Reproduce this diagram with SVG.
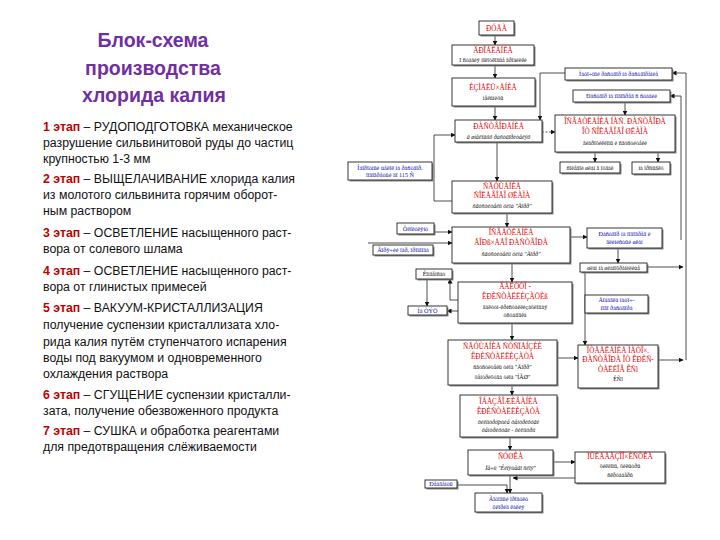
<svg xmlns="http://www.w3.org/2000/svg" width="720" height="540" viewBox="0 0 720 540">
<style>
.t{font-family:"Liberation Sans",Arial,sans-serif;font-size:12.3px;fill:#111}
.s{fill:#C00000;font-weight:bold}
.ttl{font-family:"Liberation Sans",Arial,sans-serif;font-size:19.5px;font-weight:bold;fill:#7030A0;text-anchor:middle}
.b{fill:#fff;stroke:#222;stroke-width:0.9}
.sh{fill:#888}
.r{font-family:"Liberation Serif","Times New Roman",serif;font-size:7.2px;fill:#E00000;text-anchor:middle}
.k{font-family:"Liberation Serif","Times New Roman",serif;font-size:6px;fill:#111;text-anchor:middle}
.i{font-style:italic}
.u{font-family:"Liberation Serif","Times New Roman",serif;font-size:6.2px;fill:#1010B0;text-anchor:middle}
.c{fill:none;stroke:#222;stroke-width:0.8}
</style>
<defs>
<marker id="a" markerWidth="5" markerHeight="5" refX="4.5" refY="2.5" orient="auto" markerUnits="userSpaceOnUse"><path d="M0,0 L5,2.5 L0,5 Z" fill="#111"/></marker>
</defs>
<rect width="720" height="540" fill="#fff"/>
<g id="text-panel">
<text class="ttl" x="153" y="47">Блок-схема</text>
<text class="ttl" x="153" y="75">производства</text>
<text class="ttl" x="154" y="102">хлорида калия</text>
<text class="t" x="43" y="131"><tspan class="s">1 этап</tspan> – РУДОПОДГОТОВКА механическое</text>
<text class="t" x="43" y="147">разрушение сильвинитовой руды до частиц</text>
<text class="t" x="43" y="163">крупностью 1-3 мм</text>
<text class="t" x="43" y="183"><tspan class="s">2 этап</tspan> – ВЫЩЕЛАЧИВАНИЕ хлорида калия</text>
<text class="t" x="43" y="199">из молотого сильвинита горячим оборот-</text>
<text class="t" x="43" y="215">ным раствором</text>
<text class="t" x="43" y="237"><tspan class="s">3 этап</tspan> – ОСВЕТЛЕНИЕ насыщенного раст-</text>
<text class="t" x="43" y="253">вора от солевого шлама</text>
<text class="t" x="43" y="275"><tspan class="s">4 этап</tspan> – ОСВЕТЛЕНИЕ насыщенного раст-</text>
<text class="t" x="43" y="291">вора от глинистых примесей</text>
<text class="t" x="43" y="312"><tspan class="s">5 этап</tspan> – ВАКУУМ-КРИСТАЛЛИЗАЦИЯ</text>
<text class="t" x="43" y="329">получение суспензии кристаллизата хло-</text>
<text class="t" x="43" y="346">рида калия путём ступенчатого испарения</text>
<text class="t" x="43" y="362">воды под вакуумом и одновременного</text>
<text class="t" x="43" y="378">охлаждения раствора</text>
<text class="t" x="43" y="399"><tspan class="s">6 этап</tspan> – СГУЩЕНИЕ суспензии кристалли-</text>
<text class="t" x="43" y="415">зата, получение обезвоженного продукта</text>
<text class="t" x="43" y="435"><tspan class="s">7 этап</tspan> – СУШКА и обработка реагентами</text>
<text class="t" x="43" y="451">для предотвращения слёживаемости</text>
</g>
<g id="connectors">
<path class="c" marker-end="url(#a)" d="M495,36 V45"/>
<path class="c" marker-end="url(#a)" d="M495,65 V78"/>
<path class="c" marker-end="url(#a)" d="M495,106 V120"/>
<path class="c" marker-end="url(#a)" d="M565,73 H540 V120"/>
<path class="c" marker-end="url(#a)" d="M542,132 H555" stroke-dasharray="2,1.5"/>
<path class="c" marker-end="url(#a)" d="M625,102 V115"/>
<path class="c" marker-end="url(#a)" d="M595,152 V162"/>
<path class="c" marker-end="url(#a)" d="M658,152 V162"/>
<path class="c" marker-end="url(#a)" d="M497,142 V181"/>
<path class="c" marker-end="url(#a)" d="M452,201 H434 V135 H455"/>
<path class="c" marker-end="url(#a)" d="M507,213 V227"/>
<path class="c" marker-end="url(#a)" d="M434,232 H452"/>
<path class="c" marker-end="url(#a)" d="M368,243 H452"/>
<path class="c" marker-end="url(#a)" d="M570,237 H587"/>
<path class="c" marker-end="url(#a)" d="M618,248 V263"/>
<path class="c" marker-end="url(#a)" d="M512,263 V282"/>
<path class="c" marker-end="url(#a)" d="M647,267 H683"/>
<path class="c" marker-end="url(#a)" d="M585,272 V345"/>
<path class="c" marker-end="url(#a)" d="M458,300 H450 V279"/>
<path class="c" marker-end="url(#a)" d="M427,279 V306"/>
<path class="c" marker-end="url(#a)" d="M458,311 H447"/>
<path class="c" marker-end="url(#a)" d="M512,323 V340"/>
<path class="c" marker-end="url(#a)" d="M557,358 H578"/>
<path class="c" marker-end="url(#a)" d="M658,360 H683"/>
<path class="c" marker-end="url(#a)" d="M686,360 V73 H672"/>
<path class="c" marker-end="url(#a)" d="M681,240 V96 H670"/>
<path class="c" marker-end="url(#a)" d="M512,385 V395"/>
<path class="c" marker-end="url(#a)" d="M510,437 V450"/>
<path class="c" marker-end="url(#a)" d="M553,462 H575"/>
<path class="c" marker-end="url(#a)" d="M575,478 H513"/>
<path class="c" marker-end="url(#a)" d="M510,475 V493"/>
<path class="c" marker-end="url(#a)" d="M457,485 H507 V493"/>
</g>
<g id="n-ruda"><rect class="sh" x="480.5" y="22.5" width="35" height="14"/><rect class="b" x="479" y="21" width="35" height="14"/><text class="r" x="496.5" y="31">ÐÓÄÀ</text></g>
<g id="n-droblenie"><rect class="sh" x="453.5" y="46.5" width="82" height="20"/><rect class="b" x="452" y="45" width="82" height="20"/><text class="r" x="493" y="53">ÄÐÎÁËÅÍÈÅ</text><text class="k" x="493" y="62">I ñòàäèÿ ìîëîòêîâûå äðîáèëêè</text></g>
<g id="n-izmelchenie"><rect class="sh" x="453.5" y="79.5" width="83" height="28"/><rect class="b" x="452" y="78" width="83" height="28" stroke-width="1.4"/><text class="r" x="493" y="90">ÈÇÌÅËÜ×ÅÍÈÅ</text><text class="k" x="493" y="100">ìåëüíèöû</text></g>
<g id="n-vozvrat"><rect class="sh" x="566.5" y="69.5" width="107" height="12"/><rect class="b" x="565" y="68" width="107" height="12"/><text class="u" x="618.5" y="76.3">Ìàòî÷íûé ðàñòâîð íà ðàñòâîðåíèå</text></g>
<g id="n-rastvor-b"><rect class="sh" x="574.5" y="91.5" width="97" height="12"/><rect class="b" x="573" y="90" width="97" height="12"/><text class="u" x="621.5" y="98.3">Ðàñòâîð íà ïîäîãðåâ ñ ñòàäèè</text></g>
<g id="n-rastvorenie"><rect class="sh" x="456.5" y="121.5" width="87" height="22"/><rect class="b" x="455" y="120" width="87" height="22"/><text class="r" x="498.5" y="129">ÐÀÑÒÂÎÐÅÍÈÅ</text><text class="k i" x="498.5" y="138.5">â øíåêîâûõ ðàñòâîðèòåëÿõ</text></g>
<g id="n-osvetlenie-1"><rect class="sh" x="556.5" y="116.5" width="120" height="37"/><rect class="b" x="555" y="115" width="120" height="37"/><text class="r" x="615" y="124">ÎÑÂÅÒËÅÍÈÅ ÍÀÑ. ÐÀÑÒÂÎÐÀ</text><text class="r" x="615" y="134">ÎÒ ÑÎËÅÂÎÃÎ ØËÀÌÀ</text><text class="k" x="615" y="145">ãèäðîöèêëîíû è ñãóñòèòåëè</text></g>
<g id="n-otval"><rect class="sh" x="561.5" y="163.5" width="60" height="11"/><rect class="b" x="560" y="162" width="60" height="11"/><text class="k" x="590" y="169.5">ñîëåâîé øëàì â îòâàë</text></g>
<g id="n-promyvka"><rect class="sh" x="633.5" y="163.5" width="38" height="12"/><rect class="b" x="632" y="162" width="38" height="12" stroke="#777" stroke-width="1.3"/><text class="k" x="651" y="169.5">íà ïðîìûâêó</text></g>
<g id="n-shchelok"><rect class="sh" x="349.5" y="163.5" width="84" height="18"/><rect class="b" x="348" y="162" width="84" height="18"/><text class="u" x="390" y="169.5">Îáîðîòíûé ùåëîê íà ðàñòâîð.</text><text class="u" x="390" y="177">ïîäîãðåòûé äî 115 Ñ</text></g>
<g id="n-sgushchenie-1"><rect class="sh" x="453.5" y="182.5" width="100" height="32"/><rect class="b" x="452" y="181" width="100" height="32"/><text class="r" x="502" y="189">ÑÃÓÙÅÍÈÅ</text><text class="r" x="502" y="198">ÑÎËÅÂÎÃÎ ØËÀÌÀ</text><text class="k i" x="502" y="208">ñãóñòèòåëü òèïà "Äîðð"</text></g>
<g id="n-flokulyant"><rect class="sh" x="398.5" y="224.5" width="37" height="11"/><rect class="b" x="397" y="223" width="37" height="11"/><text class="u" x="415.5" y="230.8">Ôëîêóëÿíò</text></g>
<g id="n-par"><rect class="sh" x="374.5" y="246.5" width="60" height="10"/><rect class="b" x="373" y="245" width="60" height="10"/><text class="u" x="403" y="252.3">Ãîðÿ÷èé ïàð, ïðîìâîäà</text></g>
<g id="n-osvetlenie-2"><rect class="sh" x="453.5" y="228.5" width="118" height="36"/><rect class="b" x="452" y="227" width="118" height="36"/><text class="r" x="511" y="235">ÎÑÂÅÒËÅÍÈÅ</text><text class="r" x="511" y="245">ÃÎÐß×ÅÃÎ ÐÀÑÒÂÎÐÀ</text><text class="k i" x="511" y="256">ñãóñòèòåëü òèïà "Äîðð"</text></g>
<g id="n-rastvor-f"><rect class="sh" x="588.5" y="229.5" width="75" height="20"/><rect class="b" x="587" y="228" width="75" height="20"/><text class="u" x="624.5" y="236">Ðàñòâîð íà ïîäîãðåâ è</text><text class="u" x="624.5" y="244">ãëèíèñòûé øëàì</text></g>
<g id="n-shlam"><rect class="sh" x="581.5" y="264.5" width="67" height="9"/><rect class="b" x="580" y="263" width="67" height="9"/><text class="k" x="613.5" y="269.5">øëàì íà øëàìîõðàíèëèùå</text></g>
<g id="n-kondensat"><rect class="sh" x="417.5" y="270.5" width="36" height="10"/><rect class="b" x="416" y="269" width="36" height="10"/><text class="k" x="434" y="276.3">Êîíäåíñàò</text></g>
<g id="n-vakuum"><rect class="sh" x="459.5" y="283.5" width="114" height="41"/><rect class="b" x="458" y="282" width="114" height="41"/><text class="r" x="515" y="289">ÂÀÊÓÓÌ -</text><text class="r" x="515" y="299">ÊÐÈÑÒÀËËÈÇÀÖÈß</text><text class="k" x="515" y="309">âàêóóì-êðèñòàëëèçàöèîííàÿ</text><text class="k" x="515" y="317">óñòàíîâêà</text></g>
<g id="n-tec"><rect class="sh" x="409.5" y="307.5" width="39" height="9"/><rect class="b" x="408" y="306" width="39" height="9"/><text class="u" x="427.5" y="312.5">Íà ÒÝÖ</text></g>
<g id="n-dobavka"><rect class="sh" x="586.5" y="296.5" width="63" height="18"/><rect class="b" x="585" y="295" width="63" height="18"/><text class="u" x="616.5" y="302">Äîáàâêà ìàòî÷-</text><text class="u" x="616.5" y="310">íîãî ðàñòâîðà</text></g>
<g id="n-sgushchenie-2"><rect class="sh" x="449.5" y="341.5" width="109" height="45"/><rect class="b" x="448" y="340" width="109" height="45"/><text class="r" x="502.5" y="349">ÑÃÓÙÅÍÈÅ ÑÓÑÏÅÍÇÈÈ</text><text class="r" x="502.5" y="359">ÊÐÈÑÒÀËËÈÇÀÒÀ</text><text class="k" x="502.5" y="369">ñãóñòèòåëü òèïà "Äîðð"</text><text class="k" x="502.5" y="379">öåíòðèôóãà òèïà "ÍÃØ"</text></g>
<g id="n-otdelenie"><rect class="sh" x="579.5" y="346.5" width="80" height="43"/><rect class="b" x="578" y="345" width="80" height="43" stroke="#999"/><text class="r" x="618" y="353">ÎÒÄÅËÅÍÈÅ ÌÀÒÎ×.</text><text class="r" x="618" y="362">ÐÀÑÒÂÎÐÀ ÎÒ ÊÐÈÑ-</text><text class="r" x="618" y="372">ÒÀËËÎÂ ÊÑl</text><text class="k" x="618" y="381">ÊÑl</text></g>
<g id="n-obezvozhivanie"><rect class="sh" x="461.5" y="396.5" width="97" height="42"/><rect class="b" x="460" y="395" width="97" height="42" stroke="#999"/><text class="r" x="508.5" y="404">ÎÁÅÇÂÎÆÈÂÀÍÈÅ</text><text class="r" x="508.5" y="414">ÊÐÈÑÒÀËËÈÇÀÒÀ</text><text class="k i" x="508.5" y="424">ôèëüòðóþùèå öåíòðèôóãè</text><text class="k i" x="508.5" y="432">öåíòðèôóãè - ôèëüòðû</text></g>
<g id="n-sushka"><rect class="sh" x="469.5" y="451.5" width="85" height="25"/><rect class="b" x="468" y="450" width="85" height="25" stroke="#555" stroke-width="1.3"/><text class="r" x="510.5" y="459">ÑÓØÊÀ</text><text class="k i" x="510.5" y="469.5">Ïå÷ü "Êèïÿùåãî ñëîÿ"</text></g>
<g id="n-pyle"><rect class="sh" x="576.5" y="453.5" width="90" height="31"/><rect class="b" x="575" y="452" width="90" height="31" stroke="#999"/><text class="r" x="620" y="459">ÏÛËÅÃÀÇÎÎ×ÈÑÒÊÀ</text><text class="k" x="620" y="468">öèêëîíû, ôèëüòðû</text><text class="k" x="620" y="477">ñêðóááåðû</text></g>
<g id="n-reagent"><rect class="sh" x="426.5" y="481.5" width="32" height="8"/><rect class="b" x="425" y="480" width="32" height="8"/><text class="u" x="441" y="486.3">Ðåàãåíòû</text></g>
<g id="n-produkt"><rect class="sh" x="476.5" y="494.5" width="67" height="19"/><rect class="b" x="475" y="493" width="67" height="19"/><text class="u" x="508.5" y="501">Ãîòîâûé ïðîäóêò</text><text class="u" x="508.5" y="509">õëîðèä êàëèÿ</text></g>
</svg>
